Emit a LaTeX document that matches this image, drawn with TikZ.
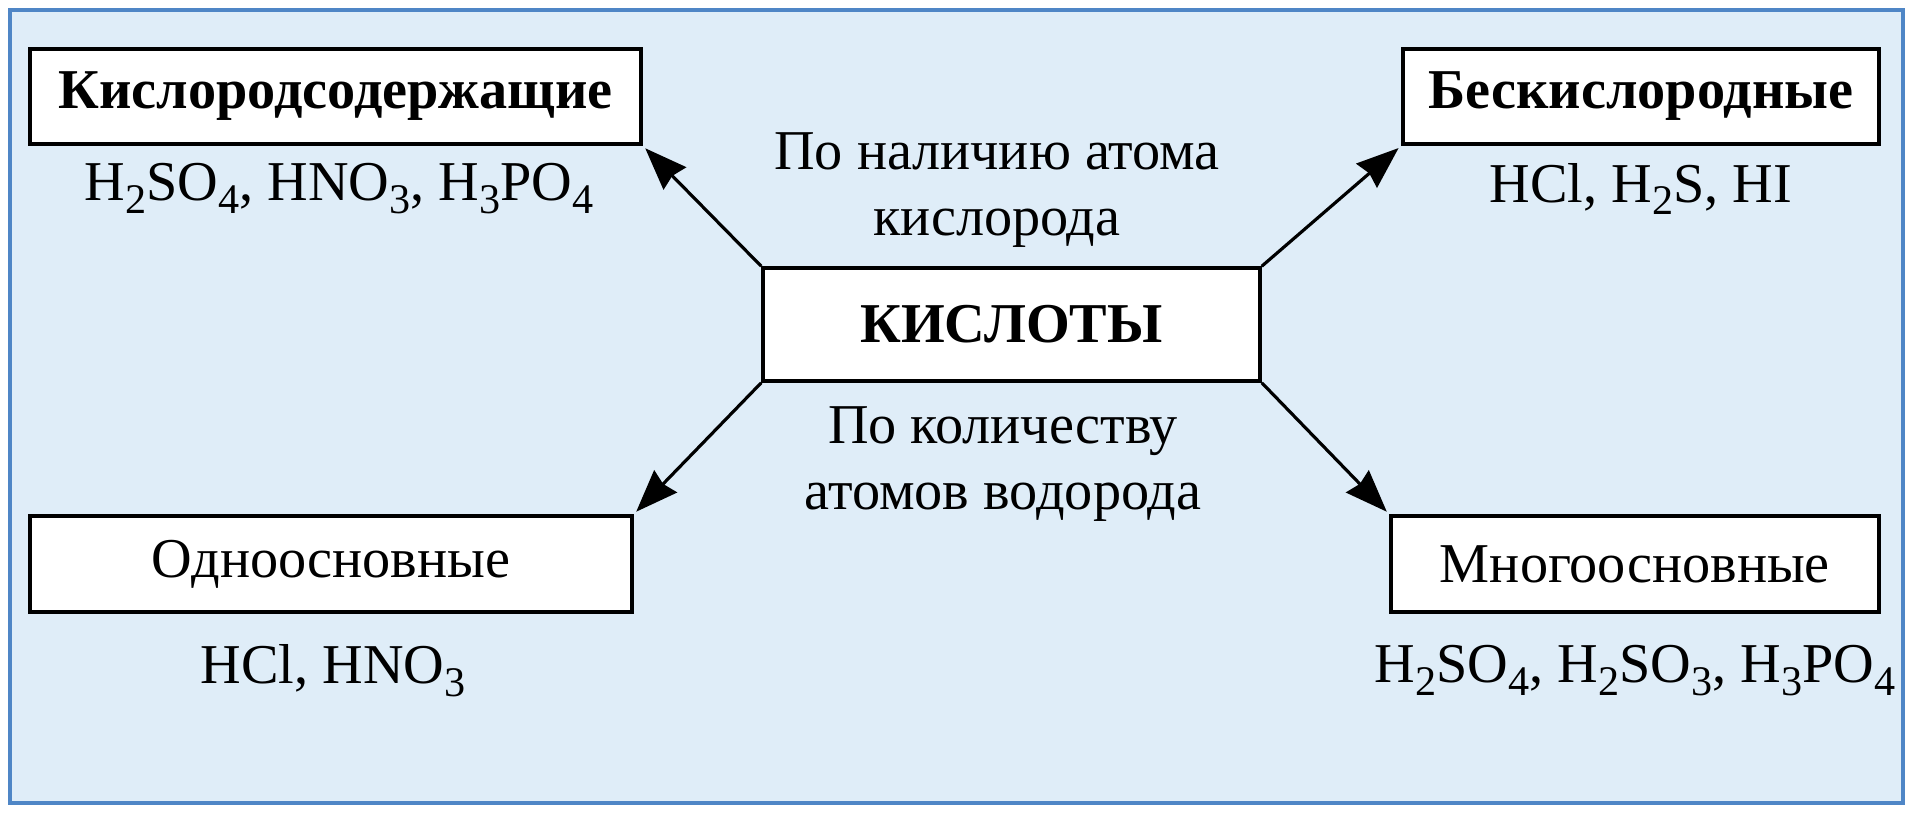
\documentclass[tikz,border=0pt]{standalone}
\usepackage{fontspec}
\setmainfont{Liberation Serif}
\usetikzlibrary{arrows.meta}

\definecolor{bgblue}{HTML}{DFEDF8}
\definecolor{frameblue}{HTML}{4F86C6}
\newcommand{\hsub}[1]{\raisebox{-0.5ex}{\fontsize{12}{12}\selectfont #1}}

\begin{document}
\begin{tikzpicture}[>={Stealth[length=12pt,width=9pt,inset=1pt]},
  box/.style={draw, line width=1pt, fill=white, inner sep=0pt,
    font=\fontsize{16}{19}\selectfont},
  note/.style={align=center, font=\fontsize{16}{19}\selectfont},
  link/.style={->, line width=0.9pt, shorten >=1pt}]
\useasboundingbox (0,0) rectangle (19.13,8.22);
\draw[line width=1.2pt, draw=frameblue, fill=bgblue] (0.10,0.19) rectangle (19.03,8.12);

% boxes
\node[box, minimum width=4.97cm, minimum height=1.13cm] (acid) at (10.115,4.975) {\textbf{КИСЛОТЫ}};
\node[box, minimum width=6.11cm, minimum height=0.95cm] (oxy) at (3.355,7.255) {\textbf{Кислородсодержащие}};
\node[box, minimum width=4.76cm, minimum height=0.95cm] (nooxy) at (16.41,7.255) {\textbf{Бескислородные}};
\node[box, minimum width=6.02cm, minimum height=0.96cm] (mono) at (3.31,2.58) {Одноосновные};
\node[box, minimum width=4.88cm, minimum height=0.96cm] (poly) at (16.35,2.58) {Многоосновные};

% examples
\node[note] (oxyex) at (3.39,6.33) {H\hsub{2}SO\hsub{4}, HNO\hsub{3}, H\hsub{3}PO\hsub{4}};
\node[note] (nooxyex) at (16.41,6.33) {HCl, H\hsub{2}S, HI};
\node[note] (monoex) at (3.33,1.51) {HCl, HNO\hsub{3}};
\node[note] (polyex) at (16.35,1.51) {H\hsub{2}SO\hsub{4}, H\hsub{2}SO\hsub{3}, H\hsub{3}PO\hsub{4}};

% criteria
\node[note] (crit1) at (9.97,6.32) {По наличию атома\\кислорода};
\node[note] (crit2) at (10.03,3.58) {По количеству\\атомов водорода};

% arrows
\draw[link] (acid.north west) -- (oxy.south east);
\draw[link] (acid.north east) -- (nooxy.south west);
\draw[link] (acid.south west) -- (mono.north east);
\draw[link] (acid.south east) -- (poly.north west);
\end{tikzpicture}
\end{document}
